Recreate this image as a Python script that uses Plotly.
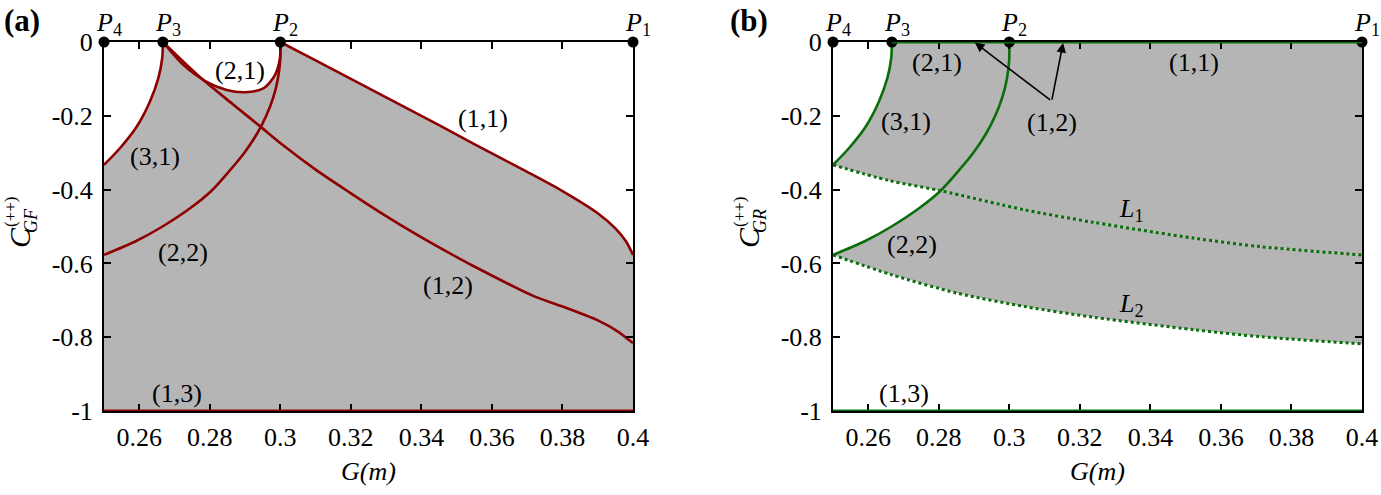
import numpy as np
import plotly.graph_objects as go

W, H = 1381, 495

# curve (3,1)
G_31 = [0.25, 0.2545, 0.2593, 0.2630, 0.2654, 0.2665, 0.2667]
C_31 = [-0.333, -0.288, -0.229, -0.162, -0.098, -0.044, 0.0]
# curve (2,1)
G_21 = [0.2667, 0.2725, 0.2791, 0.2848, 0.2900, 0.2952, 0.2985, 0.2999, 0.3]
C_21 = [0.0, -0.062, -0.108, -0.130, -0.136, -0.126, -0.089, -0.044, 0.0]
# curve (2,2)
G_22 = [0.25, 0.2590, 0.2666, 0.2745, 0.2805, 0.2855, 0.2898, 0.2933, 0.2960, 0.2980,
        0.2993, 0.29995, 0.3]
C_22 = [-0.577, -0.54, -0.50, -0.45, -0.403, -0.35, -0.30, -0.25, -0.20, -0.15,
        -0.10, -0.05, 0.0]
# curve (1,2)
G_12 = [0.2667, 0.2772, 0.2867, 0.2942, 0.3008, 0.3103, 0.3200, 0.3292, 0.3387, 0.3481,
        0.3547, 0.3717, 0.3812, 0.3906, 0.3953, 0.4]
C_12 = [0.0, -0.095, -0.170, -0.228, -0.280, -0.348, -0.410, -0.467, -0.522, -0.573,
        -0.607, -0.688, -0.721, -0.757, -0.782, -0.816]
# curve (1,1)
G_11 = [0.3, 0.31, 0.32, 0.33, 0.34, 0.35, 0.36, 0.37, 0.38, 0.39, 0.395, 0.398, 0.4]
C_11 = [0.0, -0.050, -0.100, -0.150, -0.200, -0.251, -0.302, -0.352, -0.404, -0.464,
        -0.505, -0.540, -0.577]
# curve (1,3)
G_13 = [0.25, 0.4]
C_13 = [-1.0, -1.0]
# panel (b): top line and the two dotted lines
G_TOP = [0.2667, 0.4]
C_TOP = [0.0, 0.0]
G_L1 = [0.25, 0.2657, 0.2805, 0.3044, 0.3240, 0.3526, 0.3716, 0.4]
C_L1 = [-0.333, -0.375, -0.403, -0.455, -0.489, -0.532, -0.555, -0.577]
G_L2 = [0.25, 0.2667, 0.2854, 0.3044, 0.3240, 0.3526, 0.3716, 0.4]
C_L2 = [-0.577, -0.631, -0.681, -0.717, -0.746, -0.780, -0.799, -0.818]
G_CROSS = 0.2805  # where (2,2) meets L1

P_SUBS = ["4", "3", "2", "1"]
P_G = [0.25, 0.2667, 0.3, 0.4]

XTICKS = [0.26, 0.28, 0.3, 0.32, 0.34, 0.36, 0.38, 0.4]
XTICKTEXT = ["0.26", "0.28", "0.3", "0.32", "0.34", "0.36", "0.38", "0.4"]
YTICKS = [0, -0.2, -0.4, -0.6, -0.8, -1]
YTICKTEXT = ["0", "-0.2", "-0.4", "-0.6", "-0.8", "-1"]

LABELS_A = [("(2,1)", 0.2886, -0.076), ("(3,1)", 0.2645, -0.311), ("(2,2)", 0.2725, -0.571),
            ("(1,1)", 0.3575, -0.207), ("(1,2)", 0.3476, -0.659), ("(1,3)", 0.2706, -0.952)]
LABELS_B = [("(2,1)", 0.2795, -0.056), ("(1,1)", 0.3524, -0.056), ("(3,1)", 0.2706, -0.215),
            ("(1,2)", 0.3122, -0.218), ("(2,2)", 0.2723, -0.550), ("(1,3)", 0.2700, -0.952),
            ("<i>L</i><sub>1</sub>", 0.3345, -0.455), ("<i>L</i><sub>2</sub>", 0.3345, -0.712)]
ARROW_TAIL = (0.3120, -0.160)
ARROW_HEADS = [0.2900, 0.3153]

RED = "#8f0000"
GREEN = "#0a6e0a"
GRAY = "#b5b5b5"
FONT = "Liberation Serif"
FS = 26

fig = go.Figure()


def line(x, y, color, xa, ya, dash="solid", width=2.6, shape="spline"):
    fig.add_trace(go.Scatter(x=x, y=y, mode="lines", xaxis=xa, yaxis=ya,
                             line=dict(color=color, width=width, dash=dash, shape=shape,
                                       smoothing=0.8),
                             showlegend=False, hoverinfo="skip"))


def fill(x_low, y_low, x_up, y_up, xa, ya):
    fig.add_trace(go.Scatter(x=x_low, y=y_low, mode="lines", xaxis=xa, yaxis=ya,
                             line=dict(width=0), showlegend=False, hoverinfo="skip"))
    fig.add_trace(go.Scatter(x=x_up, y=y_up, mode="lines", xaxis=xa, yaxis=ya,
                             line=dict(width=0), fill="tonexty", fillcolor=GRAY,
                             showlegend=False, hoverinfo="skip"))


def hline(g, c, color, xr, yr):
    # straight lines lying on the frame: drawn as shapes so they sit above the axis line
    fig.add_shape(type="line", x0=g[0], x1=g[-1], y0=c[0], y1=c[-1], xref=xr, yref=yr,
                  line=dict(color=color, width=3), layer="above")


# ---- panel (a)
env_g = G_31 + G_21[1:] + G_11[1:]
env_c = C_31 + C_21[1:] + C_11[1:]
fill(G_13, C_13, env_g, env_c, "x", "y")
for g, c in [(G_31, C_31), (G_21, C_21), (G_22, C_22), (G_12, C_12), (G_11, C_11)]:
    line(g, c, RED, "x", "y")
hline(G_13, C_13, RED, "x", "y")

# ---- panel (b)
top_g = G_31 + G_TOP[1:]
top_c = C_31 + C_TOP[1:]
fill(G_L1, C_L1, top_g, top_c, "x2", "y2")
g22, c22 = np.array(G_22), np.array(C_22)
gl1, cl1 = np.array(G_L1), np.array(C_L1)
low_g = list(g22[g22 <= G_CROSS]) + list(gl1[gl1 > G_CROSS])
low_c = list(c22[g22 <= G_CROSS]) + list(cl1[gl1 > G_CROSS])
fill(G_L2, C_L2, low_g, low_c, "x2", "y2")
line(G_L1, C_L1, GREEN, "x2", "y2", dash="dot", width=3)
line(G_L2, C_L2, GREEN, "x2", "y2", dash="dot", width=3)
line(G_31, C_31, GREEN, "x2", "y2")
line(G_22, C_22, GREEN, "x2", "y2")
hline(G_TOP, C_TOP, GREEN, "x2", "y2")
hline(G_13, C_13, GREEN, "x2", "y2")

# P points
for xa, ya in [("x", "y"), ("x2", "y2")]:
    fig.add_trace(go.Scatter(x=P_G, y=[0] * len(P_G), mode="markers", xaxis=xa, yaxis=ya,
                             marker=dict(color="black", size=11), cliponaxis=False,
                             showlegend=False, hoverinfo="skip"))

ann = []
for xr, yr in [("x", "y"), ("x2", "y2")]:
    for s, g in zip(P_SUBS, P_G):
        ann.append(dict(x=g, y=0, xref=xr, yref=yr, text="<i>P</i><sub>" + s + "</sub>",
                        showarrow=False, xanchor="left", yanchor="bottom", xshift=-10, yshift=0,
                        font=dict(family=FONT, size=FS, color="black")))
for text, g, c in LABELS_A:
    ann.append(dict(x=g, y=c, xref="x", yref="y", text=text, showarrow=False,
                    xanchor="center", yanchor="middle",
                    font=dict(family=FONT, size=FS, color="black")))
for text, g, c in LABELS_B:
    ann.append(dict(x=g, y=c, xref="x2", yref="y2", text=text, showarrow=False,
                    xanchor="center", yanchor="middle",
                    font=dict(family=FONT, size=FS, color="black")))
for hg in ARROW_HEADS:
    ann.append(dict(x=hg, y=0, xref="x2", yref="y2", ax=ARROW_TAIL[0], ay=ARROW_TAIL[1],
                    axref="x2", ayref="y2", text="", showarrow=True, arrowhead=2,
                    arrowsize=1.2, arrowwidth=1.6, arrowcolor="black", standoff=1))


def paper_text(txt, sx, sy, size, angle=0):
    ann.append(dict(x=sx / W, y=1 - sy / H, xref="paper", yref="paper", text=txt,
                    showarrow=False, xanchor="center", yanchor="middle", textangle=angle,
                    font=dict(family=FONT, size=size, color="black")))


paper_text("<b>(a)</b>", 22, 20, 31)
paper_text("<b>(b)</b>", 749, 20, 31)
for xc in [368, 1097]:
    paper_text("<i>G(m)</i>", xc, 471, FS)
for dx, sub in [(0, "GF"), (729, "GR")]:
    paper_text("<i>C</i>", 19 + dx, 238, 30, -90)
    paper_text("<i>" + sub + "</i>", 31 + dx, 221, 18, -90)
    paper_text("(++)", 10 + dx, 212, 17, -90)

axis_common = dict(showgrid=False, zeroline=False, showline=True, linecolor="black",
                   linewidth=2, mirror="ticks", ticks="inside", ticklen=7, tickwidth=1.6,
                   tickcolor="black", automargin=False,
                   tickfont=dict(family=FONT, size=FS, color="black"))
xa = dict(axis_common, range=[0.25, 0.4], tickvals=XTICKS, ticktext=XTICKTEXT,
          ticklabelstandoff=2)
ya = dict(axis_common, range=[-1, 0], tickvals=YTICKS, ticktext=YTICKTEXT,
          ticklabelstandoff=4)
yd = [1 - 411 / H, 1 - 42 / H]

fig.update_layout(
    width=W, height=H, autosize=False,
    margin=dict(l=0, r=0, t=0, b=0, pad=0, autoexpand=False),
    paper_bgcolor="white", plot_bgcolor="white",
    xaxis=dict(xa, domain=[104 / W, 633 / W], anchor="y"),
    yaxis=dict(ya, domain=yd, anchor="x"),
    xaxis2=dict(xa, domain=[833 / W, 1362 / W], anchor="y2"),
    yaxis2=dict(ya, domain=yd, anchor="x2"),
    annotations=ann,
)

# the page's default 8px body margin would push the figure off the window edge
fig.write_html("out.html", config={"displayModeBar": False},
               post_script="document.body.style.margin='0px';")
